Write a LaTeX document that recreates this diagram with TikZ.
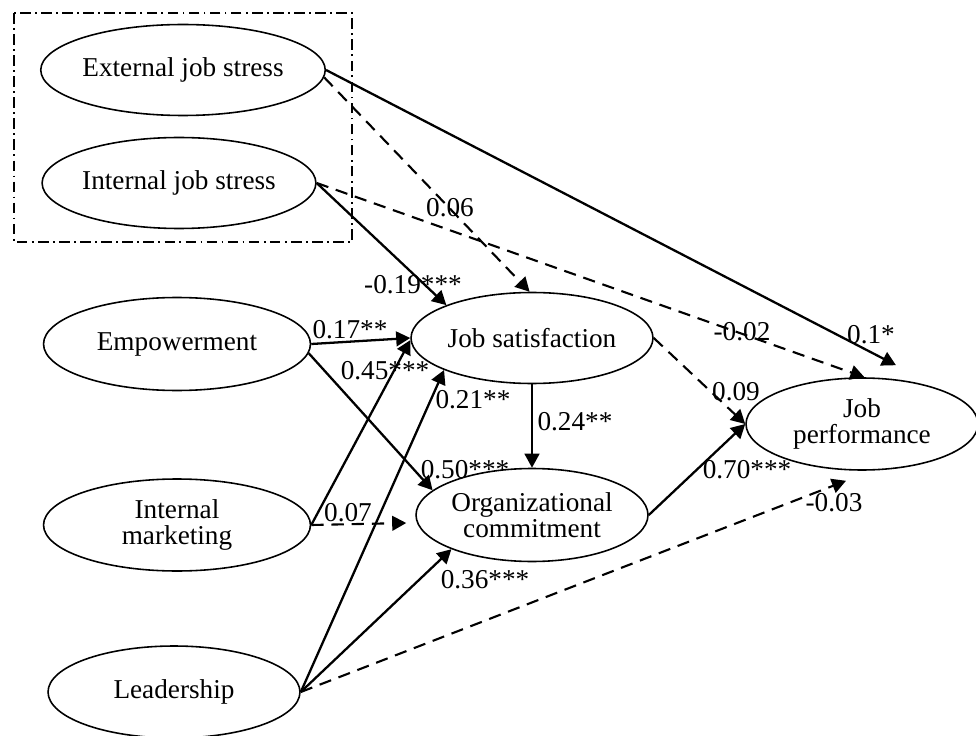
\documentclass[tikz,border=0pt]{standalone}
\usepackage{fontspec}
\setmainfont{Liberation Serif}
\usetikzlibrary{arrows.meta,shapes.geometric,calc}

\begin{document}
\begin{tikzpicture}[x=0.02cm, y=-0.02cm,
  >={Triangle[length=8pt,width=8.4pt]},
  font=\fontsize{15.5}{14.5}\selectfont,
  var/.style={ellipse, draw, line width=0.9pt, inner sep=0pt, align=center},
  sig/.style={->, line width=1.3pt},
  nsig/.style={->, line width=1.2pt, dash pattern=on 7pt off 4.5pt},
  coef/.style={inner sep=0pt}]
  % Canvas: 976 x 736 units, origin top left
  \useasboundingbox (0,0) rectangle (976,736);

  % Frame round the two stress constructs
  \draw[line width=0.8pt, dash pattern=on 6pt off 2.5pt on 1pt off 2.5pt]
    (14,13) rectangle (352,242);

  % Constructs
  \node[var, minimum width=5.66cm, minimum height=1.82cm] (ejs) at (183,70) {External job stress};
  \node[var, minimum width=5.46cm, minimum height=1.82cm] (ijs) at (179,183) {Internal job stress};
  \node[var, minimum width=5.34cm, minimum height=1.86cm] (emp) at (177,344) {Empowerment};
  \node[var, minimum width=5.34cm, minimum height=1.84cm] (im) at (177,525) {Internal\\marketing};
  \node[var, minimum width=5.04cm, minimum height=1.84cm] (lead) at (174,692) {Leadership};
  \node[var, minimum width=4.84cm, minimum height=1.82cm] (js) at (532,338) {Job satisfaction};
  \node[var, minimum width=4.64cm, minimum height=1.86cm] (oc) at (532,515) {Organizational\\commitment};
  \node[var, minimum width=4.64cm, minimum height=1.84cm] (jp) at (862,424) {Job\\performance};

  % Paths: solid = significant, dashed = not significant
  \draw[sig] (ejs.east) -- ($(jp.north)+(34,-12)$);
  \draw[nsig] (ejs.-3) -- (js.93);
  \draw[sig] (ijs.east) -- (js.159);
  \draw[nsig] (ijs.east) -- (jp.87);
  \draw[sig] (emp.east) -- (js.west);
  \draw[sig] (emp.-4) -- (oc.166);
  \draw[sig] (im.east) -- (js.181);
  \draw[nsig] (im.east) -- ($(oc.west)+(-9,8)$);
  \draw[sig] (lead.east) -- (js.200);
  \draw[sig] (lead.east) -- (oc.203);
  \draw[nsig] (lead.east) -- ($(jp.south)+(-16,10)$);
  \draw[sig] (js.south) -- (oc.north);
  \draw[nsig] (js.east) -- (jp.west);
  \draw[sig] (oc.east) -- (jp.west);

  % Path coefficients
  \node[coef] (c-ejs-js) at (450,208) {0.06};
  \node[coef] (c-ejs-jp) at (871,335) {0.1*};
  \node[coef] (c-ijs-js) at (413,285) {-0.19***};
  \node[coef] (c-ijs-jp) at (742,332) {-0.02};
  \node[coef] (c-emp-js) at (350,330) {0.17**};
  \node[coef] (c-im-js) at (385,371) {0.45***};
  \node[coef] (c-lead-js) at (473,400) {0.21**};
  \node[coef] (c-js-oc) at (575,422) {0.24**};
  \node[coef] (c-emp-oc) at (465,470) {0.50***};
  \node[coef] (c-im-oc) at (348,513) {0.07};
  \node[coef] (c-lead-oc) at (485,580) {0.36***};
  \node[coef] (c-js-jp) at (736,392) {0.09};
  \node[coef] (c-oc-jp) at (747,470) {0.70***};
  \node[coef] (c-lead-jp) at (834,503) {-0.03};
\end{tikzpicture}
\end{document}
